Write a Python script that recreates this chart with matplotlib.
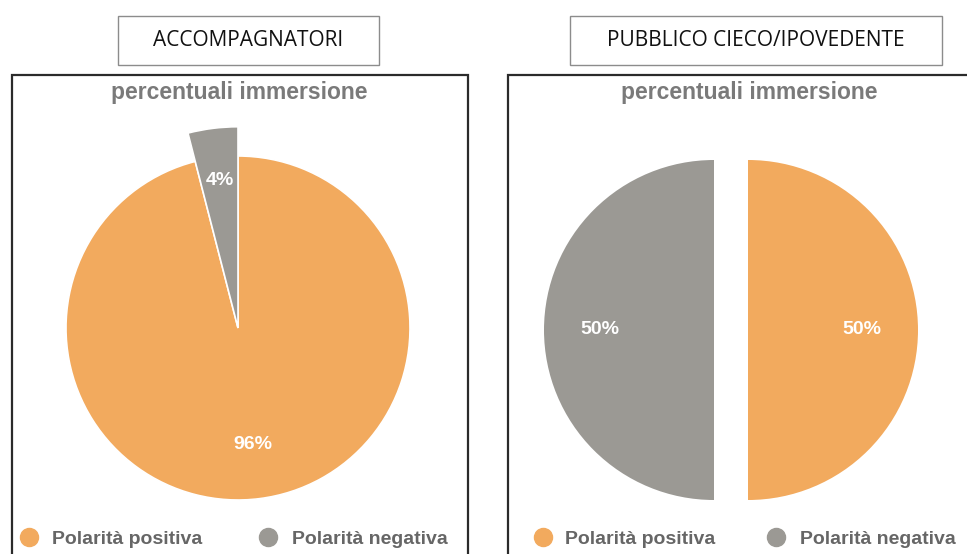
import matplotlib.pyplot as plt
from matplotlib.patches import Rectangle
from matplotlib.lines import Line2D

# =============================================================================
# Data
# =============================================================================

categories = ['Polarità positiva', 'Polarità negativa']
colors = ['#F2AA5E', '#9B9994']

groups = ['ACCOMPAGNATORI', 'PUBBLICO CIECO/IPOVEDENTE']
accompagnatori = [96, 4]
pubblico = [50, 50]

chart_title = 'percentuali immersione'

W, H = 967, 554
fig = plt.figure(figsize=(W / 100, H / 100), dpi=100)


def fx(px):
    return px / W


def fy(py):
    return 1 - py / H


# panel frames
fig.patches.append(Rectangle((fx(12), fy(570)), fx(456), (570 - 75) / H,
                             transform=fig.transFigure, fill=False,
                             edgecolor='#2b2b2b', linewidth=1.6))
fig.patches.append(Rectangle((fx(508), fy(570)), fx(480), (570 - 75) / H,
                             transform=fig.transFigure, fill=False,
                             edgecolor='#2b2b2b', linewidth=1.6))

# group title boxes
for (x0, x1), name in zip([(118, 379), (570, 942)], groups):
    fig.patches.append(Rectangle((fx(x0), fy(65)), fx(x1 - x0), 49 / H,
                                 transform=fig.transFigure, fill=False,
                                 edgecolor='#8c8c8c', linewidth=1.0))
    fig.text(fx((x0 + x1) / 2), fy(41), name, ha='center', va='center',
             fontsize=15, family='Open Sans', color='#111111')

# chart titles
for cx in [239, 749]:
    fig.text(fx(cx), fy(93), chart_title, ha='center', va='center',
             fontsize=16.5, family='Liberation Sans', weight='bold',
             color='#7a7a7a')

pct_style = dict(color='white', fontsize=14, family='Liberation Sans',
                 weight='bold')

# left pie
L = 1.25
S = 172 * 2 * L
ax1 = fig.add_axes([fx(238 - S / 2), fy(328 + S / 2), S / W, S / H])
wedges1, texts1, auto1 = ax1.pie(accompagnatori, colors=colors, startangle=90,
                                 counterclock=False, autopct='%d%%',
                                 pctdistance=0.68,
                                 wedgeprops=dict(edgecolor='white', linewidth=1.2),
                                 textprops=pct_style)
wedges1[1].set_radius(1.17)
x, y = auto1[1].get_position()
auto1[1].set_position((x * 1.27, y * 1.27))
ax1.set_xlim(-L, L)
ax1.set_ylim(-L, L)
ax1.set_aspect('equal')
ax1.axis('off')

# right pie
L2 = 1.35
S2 = 170 * 2 * L2
ax2 = fig.add_axes([fx(731 - S2 / 2), fy(330 + S2 / 2), S2 / W, S2 / H])
wedges2, texts2, auto2 = ax2.pie(pubblico, colors=colors, startangle=90,
                                 counterclock=False, autopct='%d%%',
                                 pctdistance=0.67, explode=[0.1, 0.1],
                                 textprops=pct_style)
ax2.set_xlim(-L2, L2)
ax2.set_ylim(-L2, L2)
ax2.set_aspect('equal')
ax2.axis('off')

# legends (dot x, text x) for each entry of each panel
legend_pos = [[(29, 52), (268, 292)], [(543, 565), (776, 800)]]
for panel in legend_pos:
    for (dx, tx), label, c in zip(panel, categories, colors):
        fig.add_artist(Line2D([fx(dx)], [fy(537)], marker='o', linestyle='',
                              markersize=13, markerfacecolor=c,
                              markeredgecolor=c, transform=fig.transFigure))
        fig.text(fx(tx), fy(539), label, ha='left', va='center',
                 fontsize=14, family='Liberation Sans', weight='bold',
                 color='#666666')

fig.savefig('out.png', dpi=100)
